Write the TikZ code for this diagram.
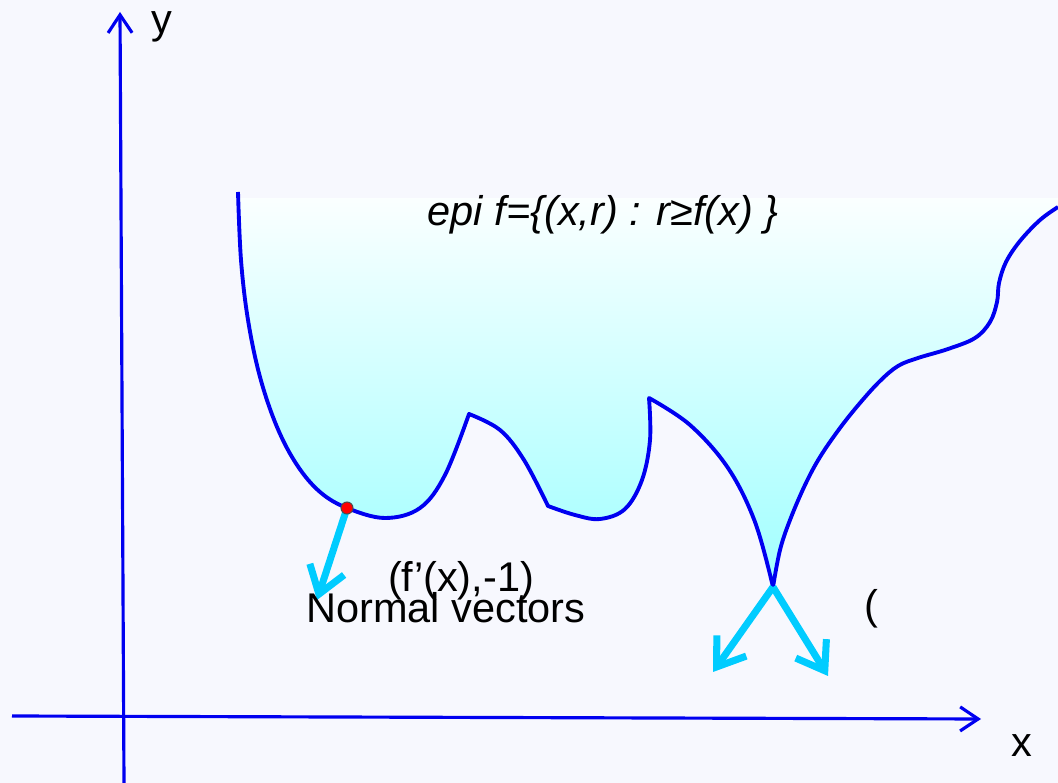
\documentclass[tikz,border=0pt]{standalone}
\usepackage{fontspec}
\setmainfont{Liberation Sans}
\usetikzlibrary{arrows.meta}
\definecolor{EpiBack}{HTML}{F7F8FE}
\definecolor{EpiBlue}{HTML}{0000F0}
\definecolor{EpiCyan}{HTML}{00CCFF}
\definecolor{EpiTop}{HTML}{FCFFFF}
\definecolor{EpiBottom}{HTML}{A0FFFF}
% graph of f, one smooth piece between each pair of kinks
\tikzset{epi curve/.style={insert path={
  -- plot[smooth, tension=0.6] coordinates {(238,192) (241,260) (248,320) (260,377)
    (277,427) (297,465) (320,492) (347,508) (385,518) (420,508) (445,475) (469,414)}
  -- plot[smooth, tension=0.6] coordinates {(469,414) (500,430) (524,460) (548,506)}
  -- plot[smooth, tension=0.6] coordinates {(548,506) (575,515) (600,519) (625,509)
    (642,480) (650,440) (649,398)}
  -- plot[smooth, tension=0.6] coordinates {(649,398) (690,425) (728,468) (755,522) (773,587)}
  -- plot[smooth, tension=0.6] coordinates {(773,587) (780,550) (790,520) (805,485)
    (820,457) (840,428) (860,403) (880,381) (898,366) (918,358) (948,349) (975,338)
    (990,322) (997,302) (999,283) (1006,262) (1020,241) (1040,220) (1058,207)}}}}

\begin{document}
\begin{tikzpicture}[x=0.01cm, y=-0.01cm,
    axis/.style={EpiBlue, line width=0.9pt, -{Straight Barb[length=1.8mm, width=2.4mm]}},
    normal/.style={EpiCyan, line width=2pt, -{Straight Barb[length=2.6mm, width=3.6mm]}},
    lbl/.style={font=\fontsize{11.8}{14}\selectfont, inner sep=0pt}]
  % pale page
  \fill[EpiBack] (0,0) rectangle (1058,783);
  \useasboundingbox (0,0) rectangle (1058,783);
  % shaded epigraph above the graph
  \shade[top color=EpiTop, bottom color=EpiBottom]
    (238,198) [epi curve] -- (1058,198) -- cycle;
  \draw[EpiBlue, line width=1.1pt, line join=round] (238,192) [epi curve];
  % axes
  \coordinate (yfoot) at (124,783);
  \coordinate (ytop) at (120,12);
  \coordinate (xfoot) at (12,716);
  \coordinate (xend) at (981,719);
  \draw[axis] (yfoot) -- (ytop);
  \draw[axis] (xfoot) -- (xend);
  \node[lbl] (ylabel) at (162,27) {y};
  \node[lbl] (xlabel) at (1022,746) {x};
  % set label
  \node[lbl, font=\fontsize{11.8}{14}\selectfont\itshape] (epi) at (603,215)
    {epi f=\{(x,r) : r≥f(x) \}};
  % normal vectors
  \coordinate (dot) at (347,508);
  \coordinate (tip) at (773,587);
  \coordinate (nleft) at (317,600);
  \coordinate (ntipl) at (713,672);
  \coordinate (ntipr) at (828,676);
  \draw[normal] (dot) -- (nleft);
  \draw[normal] (tip) -- (ntipl);
  \draw[normal] (tip) -- (ntipr);
  \filldraw[fill=red, draw=black!70, line width=0.3pt] (dot) circle[radius=0.6mm];
  \node[lbl, anchor=base] (grad) at (461,592) {(f’(x),-1)};
  \node[lbl, anchor=base] (normals) at (446,623) {Normal vectors};
  \node[lbl, anchor=base] (paren) at (871,620) {(};
\end{tikzpicture}
\end{document}
